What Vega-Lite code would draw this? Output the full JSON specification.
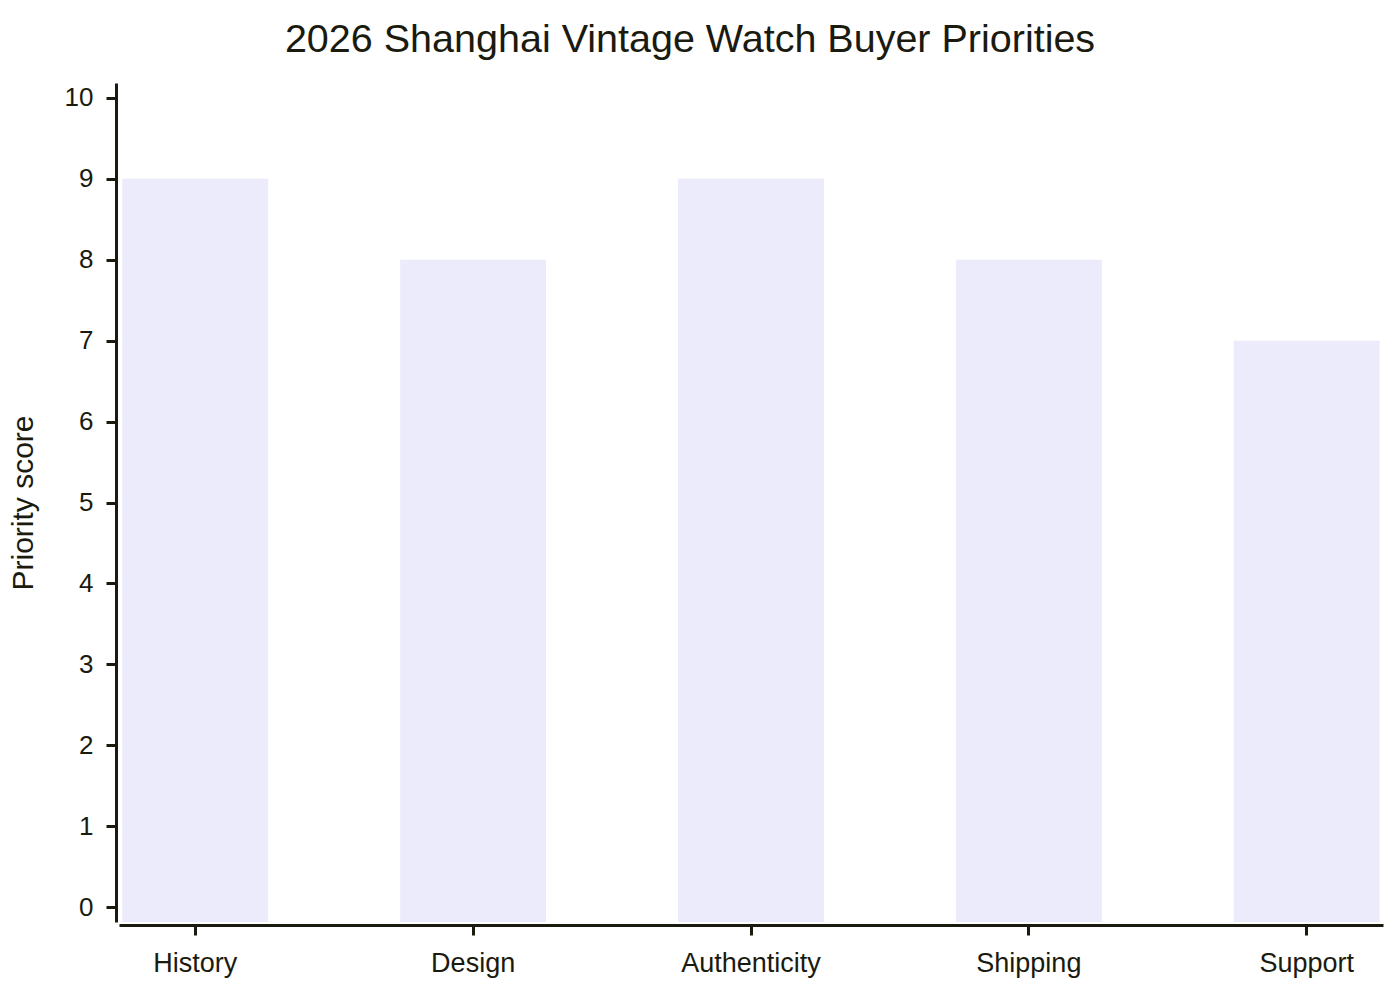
{
  "$schema": "https://vega.github.io/schema/vega-lite/v6.json",
  "autosize": {"type": "none"},
  "padding": {"left": 119, "top": 83, "right": 17, "bottom": 78},
  "width": 1264,
  "height": 839,
  "background": "white",
  "title": {
    "text": "2026 Shanghai Vintage Watch Buyer Priorities",
    "font": "Liberation Sans",
    "fontSize": 39.5,
    "fontWeight": "normal",
    "color": "#1a1a0e",
    "anchor": "middle",
    "dx": -61,
    "offset": 23
  },
  "data": {
    "values": [
      {"factor": "History", "score": 9},
      {"factor": "Design", "score": 8},
      {"factor": "Authenticity", "score": 9},
      {"factor": "Shipping", "score": 8},
      {"factor": "Support", "score": 7}
    ]
  },
  "mark": {"type": "bar", "color": "#ebebfc"},
  "encoding": {
    "x": {
      "field": "factor",
      "type": "nominal",
      "sort": null,
      "scale": {"paddingInner": 0.475, "paddingOuter": 0.012},
      "axis": {
        "title": null,
        "labelAngle": 0,
        "offset": 3,
        "domainWidth": 3,
        "domainColor": "#1a1a0e",
        "tickColor": "#1a1a0e",
        "tickWidth": 3,
        "tickSize": 10,
        "labelFont": "Liberation Sans",
        "labelFontSize": 27,
        "labelColor": "#1a1a0e",
        "labelPadding": 15
      }
    },
    "y": {
      "field": "score",
      "type": "quantitative",
      "scale": {"domain": [-0.185, 10.185], "nice": false, "zero": false},
      "axis": {
        "title": "Priority score",
        "values": [0, 1, 2, 3, 4, 5, 6, 7, 8, 9, 10],
        "grid": false,
        "offset": 3,
        "domainWidth": 3,
        "domainColor": "#1a1a0e",
        "tickColor": "#1a1a0e",
        "tickWidth": 3,
        "tickSize": 10,
        "labelFont": "Liberation Sans",
        "labelFontSize": 26,
        "labelColor": "#1a1a0e",
        "labelPadding": 13,
        "titleFont": "Liberation Sans",
        "titleFontSize": 30,
        "titleFontWeight": "normal",
        "titleColor": "#1a1a0e",
        "titlePadding": 26
      }
    },
    "y2": {"datum": -0.185}
  },
  "config": {"view": {"stroke": null}}
}
